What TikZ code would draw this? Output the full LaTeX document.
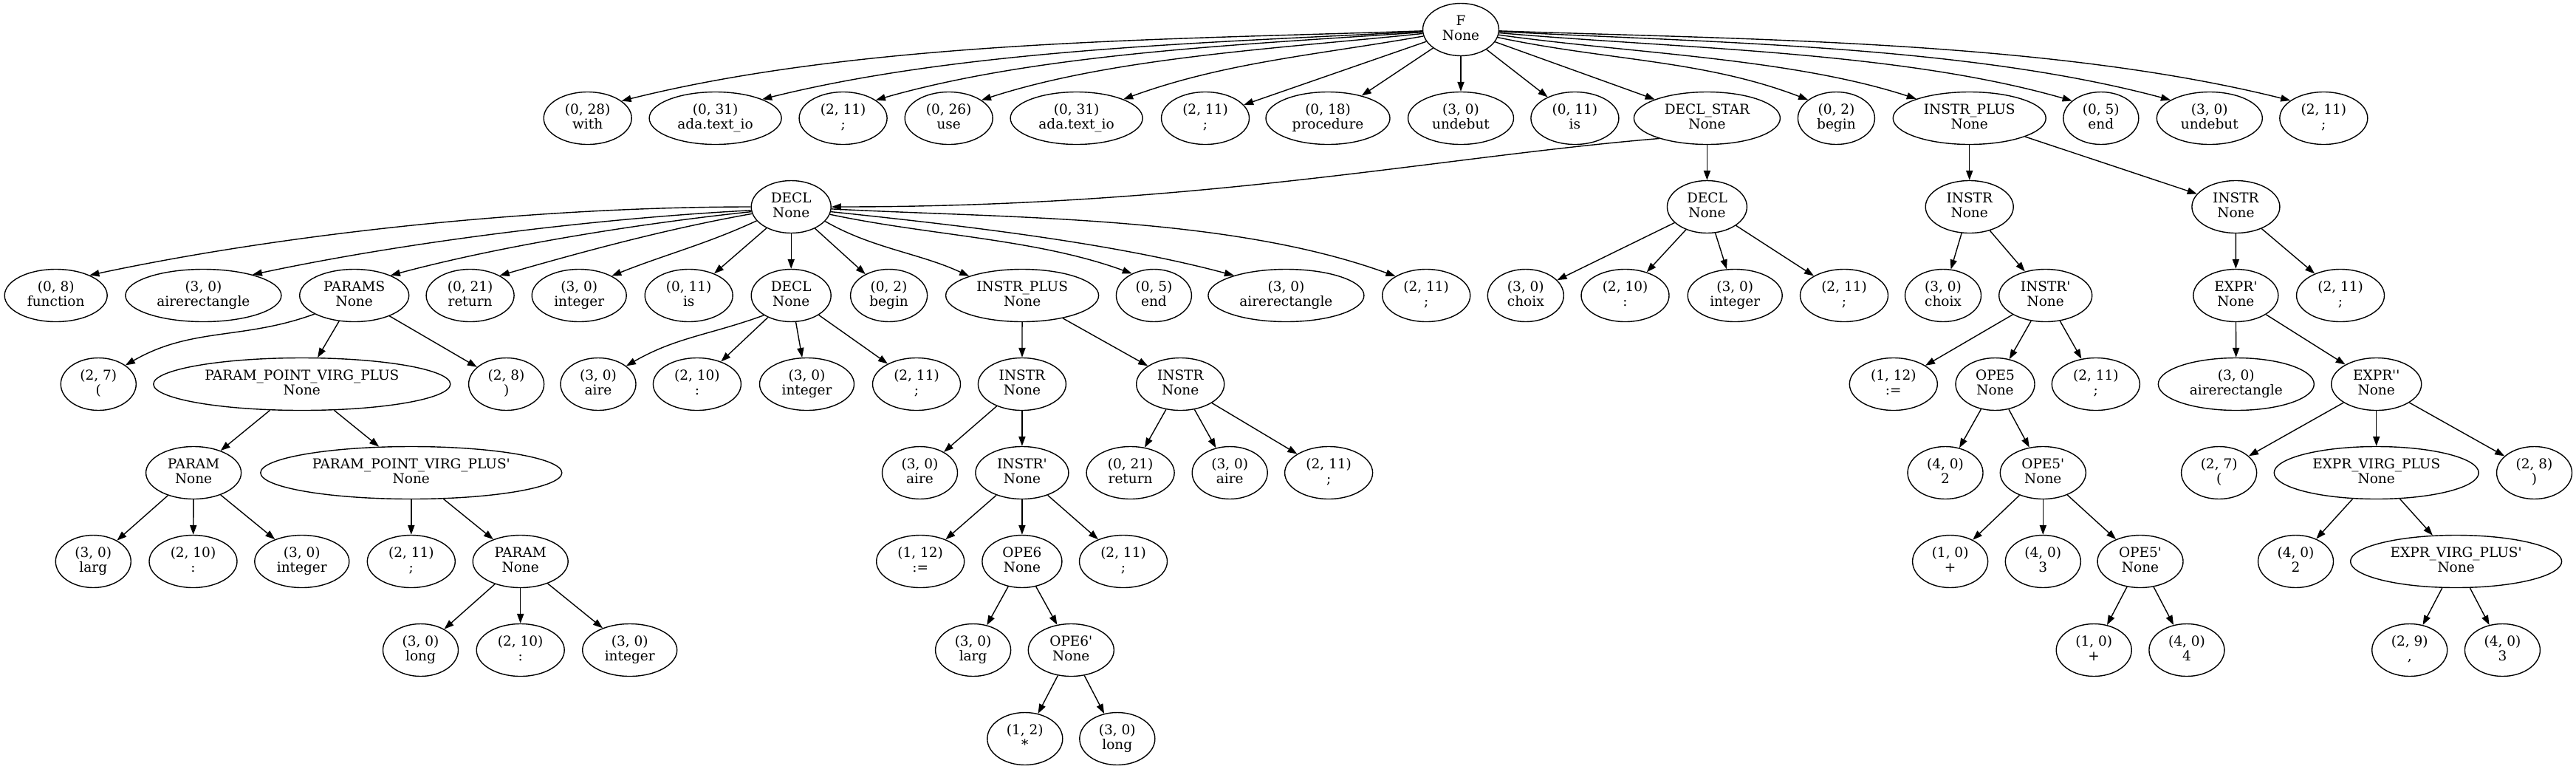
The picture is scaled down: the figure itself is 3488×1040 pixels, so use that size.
\documentclass[tikz,border=0pt]{standalone}
\usepackage{fontspec}
\newfontfamily\gvfont{DejaVu Serif}
\usetikzlibrary{shapes.geometric,arrows.meta}
\newcommand{\twol}[2]{\begin{tabular}{@{}c@{}}#1\\{}#2\end{tabular}}
\begin{document}
\begin{tikzpicture}[x=0.5pt,y=0.5pt,
  gv/.style={ellipse,draw,line width=0.7pt,inner sep=0pt,minimum height=35.5pt,font=\gvfont\fontsize{9.25}{10}\selectfont},
  w/.style={minimum width=#1*0.5pt},
  edge/.style={draw,line width=0.7pt,-{Triangle[length=6.5pt,width=4.6pt]}}]
\useasboundingbox[fill=white] (0,0) rectangle (3488,-1040);
% row 0
\node[gv,w=103] (F) at (1978,-40) {\twol{F}{None}};
% row 1
\node[gv,w=119] (a1) at (795.7,-160) {\twol{(0, 28)}{with}};
\node[gv,w=179] (a2) at (968.6,-160) {\twol{(0, 31)}{ada.text\_io}};
\node[gv,w=119] (a3) at (1141.6,-160) {\twol{(2, 11)}{;}};
\node[gv,w=119] (a4) at (1284.7,-160) {\twol{(0, 26)}{use}};
\node[gv,w=179] (a5) at (1457.6,-160) {\twol{(0, 31)}{ada.text\_io}};
\node[gv,w=119] (a6) at (1632,-160) {\twol{(2, 11)}{;}};
\node[gv,w=168] (a7) at (1798,-160) {\twol{(0, 18)}{procedure}};
\node[gv,w=143] (a8) at (1978,-160) {\twol{(3, 0)}{undebut}};
\node[gv,w=119] (a9) at (2132.4,-160) {\twol{(0, 11)}{is}};
\node[gv,w=198] (a10) at (2311.4,-160) {\twol{DECL\_STAR}{None}};
\node[gv,w=104] (a11) at (2486.4,-160) {\twol{(0, 2)}{begin}};
\node[gv,w=207] (a12) at (2666.7,-160) {\twol{INSTR\_PLUS}{None}};
\node[gv,w=102] (a13) at (2844.8,-160) {\twol{(0, 5)}{end}};
\node[gv,w=143] (a14) at (2991.8,-160) {\twol{(3, 0)}{undebut}};
\node[gv,w=119] (a15) at (3146.3,-160) {\twol{(2, 11)}{;}};
% row 2
\node[gv,w=108] (b1) at (1071.2,-280) {\twol{DECL}{None}};
\node[gv,w=108] (b2) at (2311.4,-280) {\twol{DECL}{None}};
\node[gv,w=119] (b3) at (2666.7,-280) {\twol{INSTR}{None}};
\node[gv,w=119] (b4) at (3027.4,-280) {\twol{INSTR}{None}};
% row 3
\node[gv,w=139] (c1) at (75.7,-400) {\twol{(0, 8)}{function}};
\node[gv,w=211] (c2) at (275.4,-400) {\twol{(3, 0)}{airerectangle}};
\node[gv,w=148] (c3) at (479.7,-400) {\twol{PARAMS}{None}};
\node[gv,w=119] (c4) at (636.6,-400) {\twol{(0, 21)}{return}};
\node[gv,w=128] (c5) at (784.2,-400) {\twol{(3, 0)}{integer}};
\node[gv,w=119] (c6) at (932.7,-400) {\twol{(0, 11)}{is}};
\node[gv,w=108] (c7) at (1071.2,-400) {\twol{DECL}{None}};
\node[gv,w=104] (c8) at (1203.6,-400) {\twol{(0, 2)}{begin}};
\node[gv,w=207] (c9) at (1384.1,-400) {\twol{INSTR\_PLUS}{None}};
\node[gv,w=102] (c10) at (1562.4,-400) {\twol{(0, 5)}{end}};
\node[gv,w=211] (c11) at (1741.4,-400) {\twol{(3, 0)}{airerectangle}};
\node[gv,w=119] (c12) at (1931.2,-400) {\twol{(2, 11)}{;}};
\node[gv,w=103] (c13) at (2065.8,-400) {\twol{(3, 0)}{choix}};
\node[gv,w=119] (c14) at (2200.5,-400) {\twol{(2, 10)}{:}};
\node[gv,w=128] (c15) at (2349.2,-400) {\twol{(3, 0)}{integer}};
\node[gv,w=119] (c16) at (2497,-400) {\twol{(2, 11)}{;}};
\node[gv,w=103] (c17) at (2631,-400) {\twol{(3, 0)}{choix}};
\node[gv,w=126] (c18) at (2769.7,-400) {\twol{INSTR'}{None}};
\node[gv,w=115] (c19) at (3027.3,-400) {\twol{EXPR'}{None}};
\node[gv,w=119] (c20) at (3169,-400) {\twol{(2, 11)}{;}};
% row 4
\node[gv,w=102] (d1) at (133.3,-520) {\twol{(2, 7)}{(}};
\node[gv,w=402] (d2) at (408.8,-520) {\twol{PARAM\_POINT\_VIRG\_PLUS}{None}};
\node[gv,w=102] (d3) at (685.6,-520) {\twol{(2, 8)}{)}};
\node[gv,w=102] (d4) at (810,-520) {\twol{(3, 0)}{aire}};
\node[gv,w=119] (d5) at (943.9,-520) {\twol{(2, 10)}{:}};
\node[gv,w=128] (d6) at (1092.5,-520) {\twol{(3, 0)}{integer}};
\node[gv,w=119] (d7) at (1241,-520) {\twol{(2, 11)}{;}};
\node[gv,w=119] (d8) at (1383.9,-520) {\twol{INSTR}{None}};
\node[gv,w=119] (d9) at (1598.2,-520) {\twol{INSTR}{None}};
\node[gv,w=119] (d10) at (2563.8,-520) {\twol{(1, 12)}{:=}};
\node[gv,w=107] (d11) at (2701.5,-520) {\twol{OPE5}{None}};
\node[gv,w=119] (d12) at (2837.8,-520) {\twol{(2, 11)}{;}};
\node[gv,w=211] (d13) at (3027.8,-520) {\twol{(3, 0)}{airerectangle}};
\node[gv,w=122] (d14) at (3217.7,-520) {\twol{EXPR''}{None}};
% row 5
\node[gv,w=129] (e1) at (262.1,-640) {\twol{PARAM}{None}};
\node[gv,w=408] (e2) at (556.8,-640) {\twol{PARAM\_POINT\_VIRG\_PLUS'}{None}};
\node[gv,w=102] (e3) at (1245.5,-640) {\twol{(3, 0)}{aire}};
\node[gv,w=126] (e4) at (1383.9,-640) {\twol{INSTR'}{None}};
\node[gv,w=119] (e5) at (1530.6,-640) {\twol{(0, 21)}{return}};
\node[gv,w=102] (e6) at (1665.2,-640) {\twol{(3, 0)}{aire}};
\node[gv,w=119] (e7) at (1799.1,-640) {\twol{(2, 11)}{;}};
\node[gv,w=102] (e8) at (2634,-640) {\twol{(4, 0)}{2}};
\node[gv,w=116] (e9) at (2766.3,-640) {\twol{OPE5'}{None}};
\node[gv,w=102] (e10) at (3004.6,-640) {\twol{(2, 7)}{(}};
\node[gv,w=277] (e11) at (3217.7,-640) {\twol{EXPR\_VIRG\_PLUS}{None}};
\node[gv,w=102] (e12) at (3431.5,-640) {\twol{(2, 8)}{)}};
% row 6
\node[gv,w=102] (f1) at (126.3,-760) {\twol{(3, 0)}{larg}};
\node[gv,w=119] (f2) at (261.5,-760) {\twol{(2, 10)}{:}};
\node[gv,w=128] (f3) at (408.8,-760) {\twol{(3, 0)}{integer}};
\node[gv,w=119] (f4) at (556.8,-760) {\twol{(2, 11)}{;}};
\node[gv,w=129] (f5) at (704.7,-760) {\twol{PARAM}{None}};
\node[gv,w=119] (f6) at (1246.2,-760) {\twol{(1, 12)}{:=}};
\node[gv,w=108] (f7) at (1383.9,-760) {\twol{OPE6}{None}};
\node[gv,w=119] (f8) at (1521,-760) {\twol{(2, 11)}{;}};
\node[gv,w=102] (f9) at (2640.6,-760) {\twol{(1, 0)}{+}};
\node[gv,w=102] (f10) at (2766.3,-760) {\twol{(4, 0)}{3}};
\node[gv,w=116] (f11) at (2898,-760) {\twol{OPE5'}{None}};
\node[gv,w=102] (f12) at (3108.5,-760) {\twol{(4, 0)}{2}};
\node[gv,w=286] (f13) at (3325.6,-760) {\twol{EXPR\_VIRG\_PLUS'}{None}};
% row 7
\node[gv,w=102] (g1) at (569.5,-880) {\twol{(3, 0)}{long}};
\node[gv,w=119] (g2) at (704.7,-880) {\twol{(2, 10)}{:}};
\node[gv,w=128] (g3) at (852.7,-880) {\twol{(3, 0)}{integer}};
\node[gv,w=102] (g4) at (1317.6,-880) {\twol{(3, 0)}{larg}};
\node[gv,w=116] (g5) at (1450.3,-880) {\twol{OPE6'}{None}};
\node[gv,w=102] (g6) at (2835.2,-880) {\twol{(1, 0)}{+}};
\node[gv,w=102] (g7) at (2960.9,-880) {\twol{(4, 0)}{4}};
\node[gv,w=102] (g8) at (3262.7,-880) {\twol{(2, 9)}{,}};
\node[gv,w=102] (g9) at (3388.4,-880) {\twol{(4, 0)}{3}};
% row 8
\node[gv,w=102] (h1) at (1387.8,-1000) {\twol{(1, 2)}{*}};
\node[gv,w=102] (h2) at (1512.8,-1000) {\twol{(3, 0)}{long}};
% edges from F
\draw[edge] (F.182) to[out=182,in=14,looseness=0.8] (a1.27);
\draw[edge] (F.183) to[out=183,in=14,looseness=0.8] (a2.22);
\draw[edge] (F.184) to[out=184,in=16,looseness=0.8] (a3.29);
\draw[edge] (F.186) to[out=186,in=18,looseness=0.8] (a4.29);
\draw[edge] (F.190) to[out=190,in=20,looseness=0.9] (a5.22);
\draw[edge] (F) -- (a6);
\draw[edge] (F) -- (a7);
\draw[edge] (F) -- (a8);
\draw[edge] (F) -- (a9);
\draw[edge] (F) -- (a10);
\draw[edge] (F.-12) to[out=-12,in=159,looseness=0.9] (a11.147);
\draw[edge] (F.-8) to[out=-8,in=162,looseness=0.8] (a12.160);
\draw[edge] (F.-5) to[out=-5,in=164,looseness=0.8] (a13.149);
\draw[edge] (F.-3) to[out=-3,in=165,looseness=0.8] (a14.155);
\draw[edge] (F.-2) to[out=-2,in=166,looseness=0.8] (a15.152);
% DECL_STAR
\draw[edge] (a10.203) .. controls +(-300,-25) and +(500,0) .. (b1.0);
\draw[edge] (a10) -- (b2);
% INSTR_PLUS (top)
\draw[edge] (a12) -- (b3);
\draw[edge] (a12) -- (b4);
% DECL (left)
\draw[edge] (b1.180) to[out=180,in=12,looseness=0.8] (c1.31);
\draw[edge] (b1.185) to[out=183,in=12,looseness=0.8] (c2.23);
\draw[edge] (b1.187) to[out=186,in=15,looseness=0.8] (c3.29);
\draw[edge] (b1.190) to[out=190,in=16,looseness=0.85] (c4.34);
\draw[edge] (b1.202) to[out=205,in=22,looseness=0.9] (c5.31);
\draw[edge] (b1) -- (c6);
\draw[edge] (b1) -- (c7);
\draw[edge] (b1) -- (c8);
\draw[edge] (b1.-23) to[out=-30,in=155,looseness=0.9] (c9.160);
\draw[edge] (b1.-11) to[out=-12,in=160,looseness=0.85] (c10.135);
\draw[edge] (b1.-7) to[out=-6,in=165,looseness=0.8] (c11.159);
\draw[edge] (b1.-3) to[out=-3,in=160,looseness=0.8] (c12.148);
% DECL (right)
\draw[edge] (b2) -- (c13);
\draw[edge] (b2) -- (c14);
\draw[edge] (b2) -- (c15);
\draw[edge] (b2) -- (c16);
% INSTR
\draw[edge] (b3) -- (c17);
\draw[edge] (b3) -- (c18);
\draw[edge] (b4) -- (c19);
\draw[edge] (b4) -- (c20);
% PARAMS
\draw[edge] (c3.205) to[out=200,in=30] (d1.35);
\draw[edge] (c3) -- (d2);
\draw[edge] (c3) -- (d3);
% DECL (inner)
\draw[edge] (c7.216) to[out=200,in=30] (d4.33);
\draw[edge] (c7) -- (d5);
\draw[edge] (c7) -- (d6);
\draw[edge] (c7) -- (d7);
% INSTR_PLUS (inner)
\draw[edge] (c9) -- (d8);
\draw[edge] (c9) -- (d9);
% INSTR' (right)
\draw[edge] (c18) -- (d10);
\draw[edge] (c18) -- (d11);
\draw[edge] (c18) -- (d12);
% EXPR'
\draw[edge] (c19) -- (d13);
\draw[edge] (c19) -- (d14);
% row 4 -> 5
\draw[edge] (d2) -- (e1);
\draw[edge] (d2) -- (e2);
\draw[edge] (d8) -- (e3);
\draw[edge] (d8) -- (e4);
\draw[edge] (d9) -- (e5);
\draw[edge] (d9) -- (e6);
\draw[edge] (d9) -- (e7);
\draw[edge] (d11) -- (e8);
\draw[edge] (d11) -- (e9);
\draw[edge] (d14) -- (e10);
\draw[edge] (d14) -- (e11);
\draw[edge] (d14) -- (e12);
% row 5 -> 6
\draw[edge] (e1) -- (f1);
\draw[edge] (e1) -- (f2);
\draw[edge] (e1) -- (f3);
\draw[edge] (e2) -- (f4);
\draw[edge] (e2) -- (f5);
\draw[edge] (e4) -- (f6);
\draw[edge] (e4) -- (f7);
\draw[edge] (e4) -- (f8);
\draw[edge] (e9) -- (f9);
\draw[edge] (e9) -- (f10);
\draw[edge] (e9) -- (f11);
\draw[edge] (e11) -- (f12);
\draw[edge] (e11) -- (f13);
% row 6 -> 7
\draw[edge] (f5) -- (g1);
\draw[edge] (f5) -- (g2);
\draw[edge] (f5) -- (g3);
\draw[edge] (f7) -- (g4);
\draw[edge] (f7) -- (g5);
\draw[edge] (f11) -- (g6);
\draw[edge] (f11) -- (g7);
\draw[edge] (f13) -- (g8);
\draw[edge] (f13) -- (g9);
% row 7 -> 8
\draw[edge] (g5) -- (h1);
\draw[edge] (g5) -- (h2);
\end{tikzpicture}
\end{document}
